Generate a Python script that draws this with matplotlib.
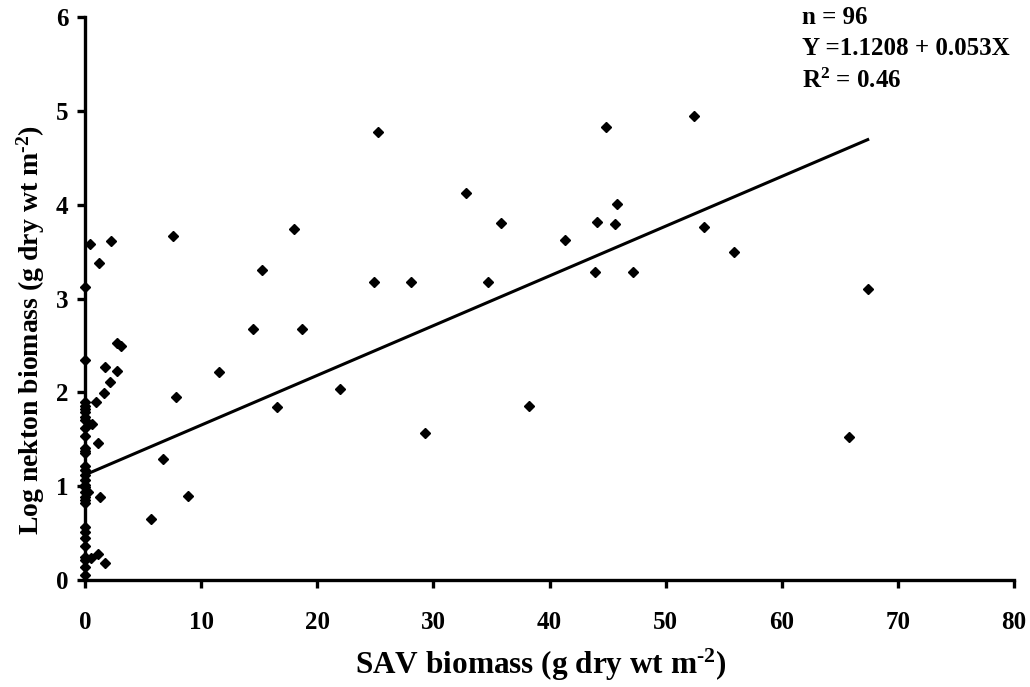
import numpy as np
import matplotlib
matplotlib.use("Agg")
import matplotlib.pyplot as plt

plt.rcParams['font.family'] = ['Liberation Serif', 'DejaVu Serif']
plt.rcParams['font.weight'] = 'bold'
plt.rcParams['mathtext.fontset'] = 'custom'
plt.rcParams['mathtext.rm'] = 'Liberation Serif:bold'
plt.rcParams['mathtext.bf'] = 'Liberation Serif:bold'
plt.rcParams['mathtext.default'] = 'bf'

# SAV biomass (x) and log nekton biomass (y)
sav_off = [0.4, 2.2, 1.2, 2.8, 3.1, 1.7, 2.8, 2.15, 1.65, 0.95, 0.6, 1.15,
           0.3, 1.3, 1.1, 0.55, 1.75, 5.7, 6.7, 7.6, 7.85, 8.85, 11.5, 14.5,
           15.25, 16.5, 18.0, 18.7, 22.0, 24.9, 25.2, 28.1, 29.3, 32.8, 34.7,
           35.8, 38.2, 41.3, 43.95, 44.1, 44.9, 45.6, 45.8, 47.2, 52.4, 53.3,
           55.9, 65.8, 67.4]
nek_off = [3.58, 3.61, 3.38, 2.53, 2.49, 2.27, 2.23, 2.11, 1.99, 1.90, 1.66, 1.46,
           0.94, 0.88, 0.28, 0.24, 0.18, 0.65, 1.29, 3.67, 1.95, 0.90, 2.22, 2.67,
           3.30, 1.84, 3.74, 2.68, 2.04, 3.18, 4.77, 3.18, 1.57, 4.12, 3.18,
           3.80, 1.85, 3.62, 3.28, 3.82, 4.83, 3.79, 4.01, 3.28, 4.95, 3.76,
           3.50, 1.52, 3.10]
# samples with no SAV (x = 0)
nek_zero = [3.12, 2.34, 1.90, 1.85, 1.82, 1.79, 1.74, 1.70, 1.62, 1.53, 1.41,
            1.38, 1.35, 1.21, 1.17, 1.12, 1.07, 1.01, 0.99, 0.94, 0.89, 0.85,
            0.82, 0.57, 0.51, 0.45, 0.36, 0.25, 0.21, 0.14, 0.05]

intercept = 1.1208
slope = 0.053

sav = np.array(sav_off + [0.0] * len(nek_zero))
nek = np.array(nek_off + nek_zero)

fig = plt.figure(figsize=(10.3, 6.87), dpi=100)
ax = fig.add_axes([0.0825, 0.1557, 0.902, 0.8196])

ax.plot(sav, nek, linestyle='none', marker='D', markersize=4.8,
        color='black', clip_on=False, zorder=3)

xfit = np.array([0.0, sav.max()])
ax.plot(xfit, intercept + slope * xfit, color='black', linewidth=2.2,
        clip_on=False, zorder=2)

ax.set_xlim(0, 80)
ax.set_ylim(0, 6)
ax.set_xticks(np.arange(0, 81, 10))
ax.set_yticks(np.arange(0, 7, 1))

for side in ['top', 'right']:
    ax.spines[side].set_visible(False)
for side in ['left', 'bottom']:
    ax.spines[side].set_linewidth(2.4)
    ax.spines[side].set_zorder(1)

ax.tick_params(axis='x', direction='out', length=6, width=2.4, pad=16, labelsize=18)
ax.tick_params(axis='y', direction='out', length=6, width=2.4, pad=6, labelsize=18)

ax.set_xlabel(r'SAV biomass (g dry wt m$^{\text{-2}}$)', fontsize=22.5, fontweight='bold')
ax.set_ylabel(r'Log nekton biomass (g dry wt m$^{\text{-2}}$)', fontsize=20, fontweight='bold')
ax.xaxis.set_label_coords(0.49, -0.118)
ax.yaxis.set_label_coords(-0.041, 0.444)

ax.text(0.779, 0.991, 'n = 96\nY =1.1208 + 0.053X\nR$^{2}$ = 0.46',
        transform=fig.transFigure, fontsize=18, fontweight='bold',
        va='top', ha='left', linespacing=1.45)

fig.savefig('out.png', dpi=100)
